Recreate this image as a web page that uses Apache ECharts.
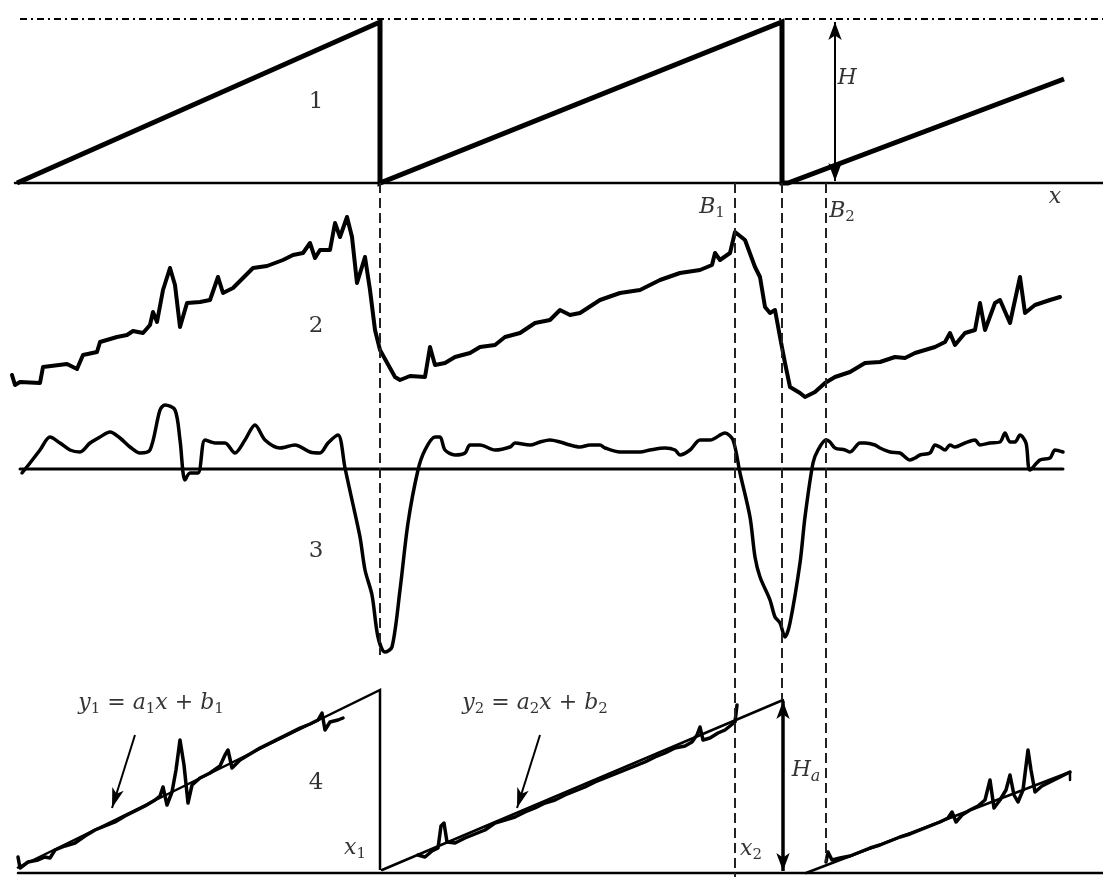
<!DOCTYPE html>
<html>
<head>
<meta charset="utf-8">
<script src="https://cdn.jsdelivr.net/npm/echarts@6/dist/echarts.min.js"></script>
<style>html,body{margin:0;padding:0;background:#fff}#c{width:1103px;height:877px}</style>
</head>
<body>
<div id="c"></div>
<script>
// Panel 1: sawtooth reference profile
const sawtooth = [[17,183],[380,22],[380,183],[782,22],[782,183],[788,183],[1064,79]];
const topRef = [[20,19],[1103,19]];
const base1 = [[15,183],[1103,183]];
// Panel 2: measured noisy profile
const profile = [[12,375],[15,385],[20,382],[40,383],[43,367],[67,364],[77,369],[83,355],[97,352],[100,342],[117,337],[127,335],[133,331],[143,333],[150,325],[153,312],[157,322],[163,290],[170,268],[175,285],[180,327],[187,303],[200,302],[210,300],[218,277],[223,293],[233,288],[253,268],[267,266],[283,260],[293,255],[303,253],[310,243],[315,258],[320,250],[330,250],[335,223],[340,237],[347,217],[352,237],[357,283],[365,257],[370,290],[375,330],[380,350],[395,377],[400,380],[410,376],[425,377],[430,347],[435,365],[445,363],[455,357],[470,353],[480,347],[495,345],[505,337],[520,333],[535,323],[550,320],[560,310],[570,315],[580,313],[600,300],[620,293],[640,290],[660,280],[680,273],[700,270],[712,265],[715,253],[720,260],[730,253],[735,232],[745,240],[755,267],[760,277],[765,307],[770,313],[775,310],[780,337],[785,363],[790,387],[800,393],[805,397],[815,392],[825,383],[835,377],[850,372],[865,363],[880,362],[895,357],[905,358],[915,353],[925,350],[935,347],[945,342],[950,333],[955,345],[965,333],[975,330],[980,303],[985,330],[995,303],[1000,300],[1010,323],[1020,277],[1025,313],[1035,305],[1050,300],[1060,297]];
// Panel 3: derivative-like signal
const base3 = [[20,469],[1063,469]];
const deriv = [[22,473],[30,463],[40,450],[50,437],[60,443],[70,450],[80,452],[90,443],[100,437],[110,432],[120,438],[130,447],[140,453],[150,450],[160,410],[165,405],[175,410],[180,440],[185,480],[190,473],[198,473],[205,440],[215,443],[225,443],[235,453],[245,440],[255,425],[265,440],[280,448],[295,445],[310,452],[320,453],[328,443],[338,435],[345,468],[352,500],[360,537],[365,570],[372,595],[378,637],[385,652],[392,647],[400,590],[408,523],[418,470],[425,450],[435,437],[440,437],[445,450],[455,455],[465,453],[470,445],[480,445],[495,450],[510,447],[515,443],[530,445],[540,442],[550,440],[560,442],[570,445],[580,447],[590,445],[600,445],[605,448],[620,452],[640,452],[650,450],[665,448],[675,450],[680,455],[690,450],[700,440],[710,440],[725,433],[733,440],[740,473],[750,517],[755,557],[760,577],[770,600],[775,617],[780,623],[785,637],[790,623],[800,563],[805,517],[813,463],[818,450],[826,440],[830,442],[835,448],[845,450],[850,452],[860,443],[865,443],[875,445],[880,448],[890,452],[900,453],[910,460],[915,458],[920,455],[930,453],[935,445],[940,447],[945,450],[950,445],[955,447],[965,443],[975,440],[980,445],[990,443],[1000,442],[1005,433],[1010,442],[1015,442],[1020,435],[1026,443],[1030,470],[1040,460],[1050,458],[1055,450],[1063,452]];
// Panel 4: fitted lines and detrended profile
const base4 = [[18,873],[1103,873]];
const fit1 = [[17,868],[380,690],[380,870]];
const fit2 = [[382,870],[783,700]];
const fit3 = [[806,873],[1070,772],[1070,780]];
const noise1 = [[18,857],[20,868],[28,862],[38,860],[45,857],[50,858],[55,850],[65,846],[75,843],[85,836],[95,830],[105,826],[115,822],[125,816],[135,811],[145,806],[155,800],[160,796],[163,787],[167,805],[172,792],[176,770],[180,740],[184,765],[188,803],[192,785],[200,778],[210,773],[220,766],[225,755],[228,750],[232,768],[240,760],[250,754],[260,748],[270,743],[280,738],[290,733],[300,728],[310,724],[318,720],[322,713],[325,730],[330,722],[338,720],[343,718]];
const noise2 = [[418,855],[425,857],[432,851],[438,848],[441,826],[444,823],[447,842],[455,843],[465,838],[475,834],[485,830],[495,823],[505,820],[515,817],[525,812],[535,808],[545,803],[555,800],[565,795],[575,791],[585,787],[595,782],[605,778],[615,774],[625,770],[635,766],[645,762],[655,757],[665,753],[675,748],[685,746],[692,742],[697,735],[700,727],[703,740],[710,738],[718,733],[725,730],[730,726],[735,722],[737,705]];
const noise3 = [[826,862],[828,852],[832,860],[840,858],[850,856],[860,852],[870,848],[880,845],[890,841],[900,837],[910,834],[920,830],[930,826],[940,822],[948,818],[952,812],[956,822],[962,815],[970,810],[978,806],[985,800],[990,780],[994,808],[1000,800],[1006,790],[1010,775],[1014,795],[1018,802],[1023,790],[1028,750],[1031,770],[1035,792],[1042,786],[1050,782],[1060,777],[1070,772]];
// Guides
const dashX = [380, 735, 782, 826];
const dashY0 = [183, 183, 183, 183];
const dashY1 = [655, 877, 700, 862];
const arrows = [[[835,22],[835,181],2,'H'],[[783,701],[783,871],3.5,'Ha']];
const pointers = [[[135,735],[112,808]],[[540,735],[517,808]]];
// Labels: [x, y, text]
const labels = [
  [316,102,'{n|1}'],[316,326,'{n|2}'],[316,551,'{n|3}'],[316,783,'{n|4}'],
  [847,78,'{i|H}'],[1055,197,'{i|x}'],
  [712,207,'{i|B}{s|1}'],[842,211,'{i|B}{s|2}'],
  [151,703,'{i|y}{s|1}{i| = a}{s|1}{i|x + b}{s|1}'],
  [535,703,'{i|y}{s|2}{i| = a}{s|2}{i|x + b}{s|2}'],
  [355,848,'{i|x}{s|1}'],[751,849,'{i|x}{s|2}'],
  [806,770,'{i|H}{si|a}']
];

const K = '#000';
function line(data, w, extra) {
  return Object.assign({type:'line', data, symbol:'none', silent:true, animation:false,
    lineStyle:{color:K, width:w, join:'round', cap:'round'}}, extra || {});
}
const series = [];
series.push(line(topRef, 2, {lineStyle:{color:K,width:2,type:[7,4,2,4]}}));
series.push(line(base1, 2.5));
series.push(line(sawtooth, 5, {lineStyle:{color:K,width:5,join:'miter'}}));
series.push(line(profile, 4));
series.push(line(base3, 3));
series.push(line(deriv, 3.5, {smooth:0.3}));
series.push(line(base4, 2.5));
series.push(line(fit1, 2.5, {lineStyle:{color:K,width:2.5,join:'miter'}}));
series.push(line(fit2, 2.5));
series.push(line(fit3, 2.5));
series.push(line(noise1, 3.5));
series.push(line(noise2, 3.5));
series.push(line(noise3, 3.5));
dashX.forEach((x,i)=>{
  series.push(line([[x,dashY0[i]],[x,dashY1[i]]], 2, {lineStyle:{color:'#222',width:2,type:[10,5],cap:'butt'}}));
});
arrows.forEach(a=>{
  series.push({type:'line', data:[], silent:true, animation:false,
    markLine:{silent:true, animation:false, symbol:['arrow','arrow'], symbolSize:[10,18], label:{show:false},
      lineStyle:{color:K, width:a[2], type:'solid'},
      data:[[{coord:a[0]},{coord:a[1]}]]}});
});
pointers.forEach(p=>{
  series.push({type:'line', data:[], silent:true, animation:false,
    markLine:{silent:true, animation:false, symbol:['none','arrow'], symbolSize:[9,20], label:{show:false},
      lineStyle:{color:K, width:2, type:'solid'},
      data:[[{coord:p[0]},{coord:p[1]}]]}});
});
series.push({type:'scatter', silent:true, animation:false, symbolSize:1, itemStyle:{color:'rgba(0,0,0,0)'},
  data: labels.map(l=>({value:[l[0],l[1]], label:{formatter:l[2]}})),
  label:{show:true, position:'inside', color:K,
    rich:{
      n:{fontFamily:'DejaVu Serif', fontSize:23, color:K},
      i:{fontFamily:'DejaVu Serif', fontStyle:'italic', fontSize:22, color:K},
      s:{fontFamily:'DejaVu Serif', fontSize:15, color:K, padding:[12,0,0,0]},
      si:{fontFamily:'DejaVu Serif', fontStyle:'italic', fontSize:16, color:K, padding:[14,0,0,0]}
    }}
});

const chart = echarts.init(document.getElementById('c'), null, {renderer:'canvas'});
chart.setOption({
  backgroundColor:'#fff',
  animation:false,
  grid:{left:0,right:0,top:0,bottom:0},
  xAxis:{type:'value', min:0, max:1103, show:false},
  yAxis:{type:'value', min:0, max:877, inverse:true, show:false},
  series
});
</script>
</body>
</html>
